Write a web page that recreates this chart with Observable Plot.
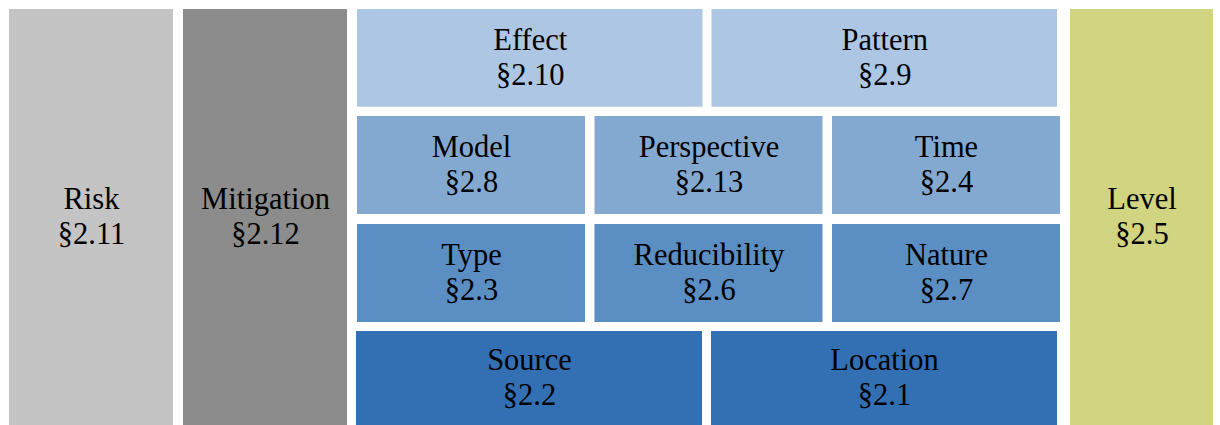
<!DOCTYPE html>
<html>
<head>
<meta charset="utf-8">
<script src="https://cdn.jsdelivr.net/npm/d3@7"></script>
<script src="https://cdn.jsdelivr.net/npm/@observablehq/plot@0.6"></script>
<style>
  html, body { margin: 0; padding: 0; background: #fff; }
  #chart svg { display: block; }
</style>
</head>
<body>
<div id="chart"></div>
<script>
// ---- data ----
const labels   = ["Risk", "Mitigation", "Effect", "Pattern", "Model", "Perspective", "Time", "Type", "Reducibility", "Nature", "Source", "Location", "Level"];
const sections = ["§2.11", "§2.12", "§2.10", "§2.9", "§2.8", "§2.13", "§2.4", "§2.3", "§2.6", "§2.7", "§2.2", "§2.1", "§2.5"];
const groups   = ["risk", "mitigation", "tier1", "tier1", "tier2", "tier2", "tier2", "tier3", "tier3", "tier3", "tier4", "tier4", "level"];

// ---- layout (computed from structure, not stored in data) ----
const W = 1220, H = 425;
const outerCols = {
  risk:       [9, 173],
  mitigation: [183, 347],
  level:      [1070, 1213]
};
const boxTop = 9, boxBottom = 425;
const tierRows = {
  tier1: {y: [9, 106.7],  x: [357, 1057], gap: 9},
  tier2: {y: [116, 214],  x: [357, 1060], gap: 9.5},
  tier3: {y: [224, 322],  x: [357, 1060], gap: 9.5},
  tier4: {y: [331, 425],  x: [356, 1057], gap: 9}
};
const palette = {
  risk: "#c4c4c4",
  mitigation: "#8c8c8c",
  tier1: "#adc6e3",
  tier2: "#84a9d1",
  tier3: "#5b8ec3",
  tier4: "#3270b3",
  level: "#d1d480"
};

const cells = labels.map((label, i) => ({label, section: sections[i], group: groups[i]}));
const counts = d3.rollup(cells, v => v.length, d => d.group);
const seen = new Map();
for (const c of cells) {
  const k = seen.get(c.group) || 0;
  seen.set(c.group, k + 1);
  if (outerCols[c.group]) {
    [c.x1, c.x2] = outerCols[c.group];
    c.y1 = boxTop; c.y2 = boxBottom;
  } else {
    const r = tierRows[c.group];
    const n = counts.get(c.group);
    const w = (r.x[1] - r.x[0] - r.gap * (n - 1)) / n;
    c.x1 = r.x[0] + k * (w + r.gap);
    c.x2 = c.x1 + w;
    [c.y1, c.y2] = r.y;
  }
  c.cx = (c.x1 + c.x2) / 2;
  c.cy = (c.y1 + c.y2) / 2;
  c.text = c.label + "\n" + c.section;
}

const chart = Plot.plot({
  width: W,
  height: H,
  margin: 0,
  x: {type: "identity", axis: null},
  y: {type: "identity", axis: null},
  color: {type: "identity"},
  marks: [
    Plot.rect(cells, {x1: "x1", x2: "x2", y1: "y1", y2: "y2", fill: d => palette[d.group]}),
    Plot.text(cells, {
      x: "cx", y: "cy", text: "text", dy: -2,
      fontSize: 30.5, lineHeight: 1.13,
      fontFamily: "'Liberation Serif', 'DejaVu Serif', serif",
      fill: "#000", textAnchor: "middle"
    })
  ],
  style: {background: "#fff", overflow: "visible"}
});
document.getElementById("chart").appendChild(chart);
</script>
</body>
</html>
